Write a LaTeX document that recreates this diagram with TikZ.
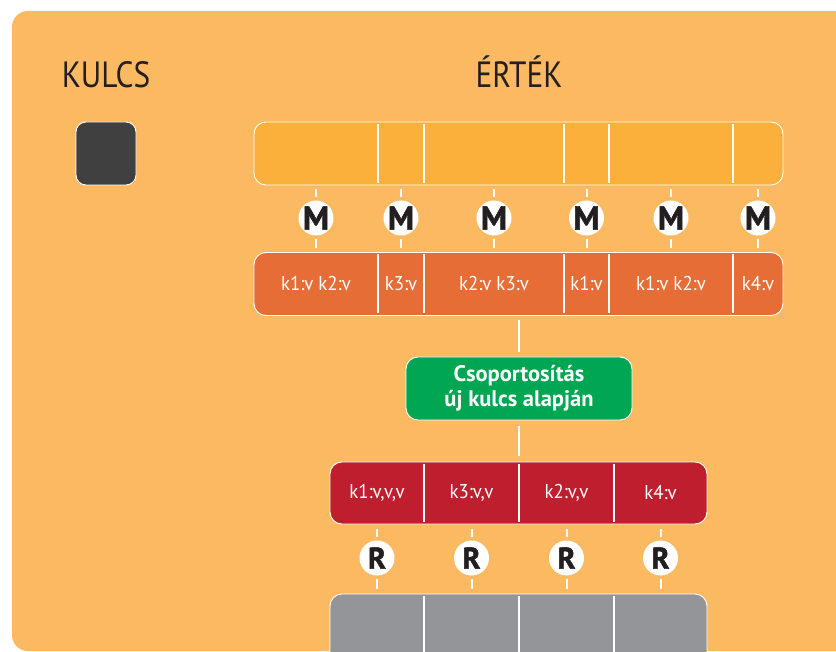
\documentclass[tikz,border=0pt]{standalone}
\usepackage{fontspec}
\setmainfont{PT Sans}
\newfontfamily\headfont[FakeStretch=0.86]{PT Sans}
\newfontfamily\cellfont[FakeStretch=0.94]{PT Sans}
\newfontfamily\markfont[BoldFeatures={FakeBold=1.6}]{PT Sans}
\definecolor{panelbg}{HTML}{FBB962}
\definecolor{valbar}{HTML}{FBB03B}
\definecolor{mapbar}{HTML}{E66D35}
\definecolor{redbar}{HTML}{BE1E2D}
\definecolor{groupgreen}{HTML}{00A651}
\definecolor{graybar}{HTML}{939598}
\definecolor{keydark}{HTML}{404040}
\definecolor{inkdark}{HTML}{231F20}
\tikzset{
  bar/.style={draw=white, line width=0.9pt, rounded corners=12pt, inner sep=0pt},
  divider/.style={white, line width=2pt},
  tick/.style={white, line width=2pt},
  cell/.style={text=white, font=\cellfont\fontsize{20}{20}\selectfont, inner sep=0pt},
  mapper/.style={circle, fill=white, minimum size=35pt, inner sep=0pt,
    font=\markfont\bfseries\fontsize{33}{33}\selectfont, text=inkdark},
  reducer/.style={circle, fill=white, minimum size=35pt, inner sep=0pt,
    font=\markfont\bfseries\fontsize{30}{30}\selectfont, text=inkdark},
  heading/.style={text=inkdark, font=\headfont\fontsize{36.5}{36}\selectfont, inner sep=0pt},
}
\begin{document}
\begin{tikzpicture}[x=1pt, y=-1pt]
\useasboundingbox (0,0) rectangle (836,652);
\clip (0,0) rectangle (836,652);
\fill[white] (0,0) rectangle (836,652);
% background panel
\fill[panelbg, rounded corners=16pt] (12,11) rectangle (880,651);

% headings
\node[heading, anchor=base] (kulcs) at (106,88) {KULCS};
\node[heading, anchor=base] (ertek) at (519,88) {ÉRTÉK};

% key box
\node[bar, fill=keydark, minimum width=60pt, minimum height=63pt, rounded corners=10pt] (key) at (106,153.5) {};

% value bar
\node[bar, fill=valbar, minimum width=529pt, minimum height=63pt] (vals) at (518.5,153.5) {};
% map output bar
\node[bar, fill=mapbar, minimum width=529pt, minimum height=63pt] (maps) at (518.5,284) {};
\foreach \x in {378,424,564,609,733}{
  \draw[divider] (\x,124) -- (\x,183);
  \draw[divider] (\x,254.5) -- (\x,313.5);
}

% mappers and their outputs
\foreach \i/\x/\t in {1/316/{k1:v k2:v}, 2/401/{k3:v}, 3/494/{k2:v k3:v},
                      4/586.5/{k1:v}, 5/671/{k1:v k2:v}, 6/758/{k4:v}}{
  \node[mapper] (m\i) at (\x,218) {M};
  \node[cell] (mo\i) at (\x,284) {\t};
  \draw[tick, shorten <=3.5pt, shorten >=4pt] (m\i.north) -- (m\i.north |- vals.south);
  \draw[tick, shorten <=3.5pt, shorten >=4pt] (m\i.south) -- (m\i.south |- maps.north);
}

% grouping step
\node[bar, fill=groupgreen, minimum width=226pt, minimum height=63pt, text=white,
  font=\bfseries\fontsize{22.5}{25}\selectfont, align=center] (group) at (519,388.5)
  {Csoportosítás\\új kulcs alapján};
\draw[tick, shorten <=4.5pt, shorten >=5pt] (maps.south -| group.north) -- (group.north);

% reduce input bar
\node[bar, fill=redbar, minimum width=377pt, minimum height=62pt] (reds) at (518.5,493) {};
\draw[tick, shorten <=6pt, shorten >=6pt] (group.south) -- (group.south |- reds.north);
% reduce output bar
\node[bar, fill=graybar, minimum width=377pt, minimum height=120pt] (outs) at (518.5,654) {};
\foreach \x in {424,519,614}{
  \draw[divider] (\x,464) -- (\x,522);
  \draw[divider] (\x,596) -- (\x,660);
}

% reducers
\foreach \i/\x/\t in {1/377/{k1:v,v,v}, 2/471.5/{k3:v,v}, 3/566.5/{k2:v,v}, 4/660.5/{k4:v}}{
  \node[reducer] (r\i) at (\x,558) {R};
  \node[cell] (ri\i) at (\x,493) {\t};
  \draw[tick, shorten <=3pt, shorten >=5pt] (r\i.north) -- (r\i.north |- reds.south);
  \draw[tick, shorten <=3pt, shorten >=5pt] (r\i.south) -- (r\i.south |- outs.north);
}
\end{tikzpicture}
\end{document}
